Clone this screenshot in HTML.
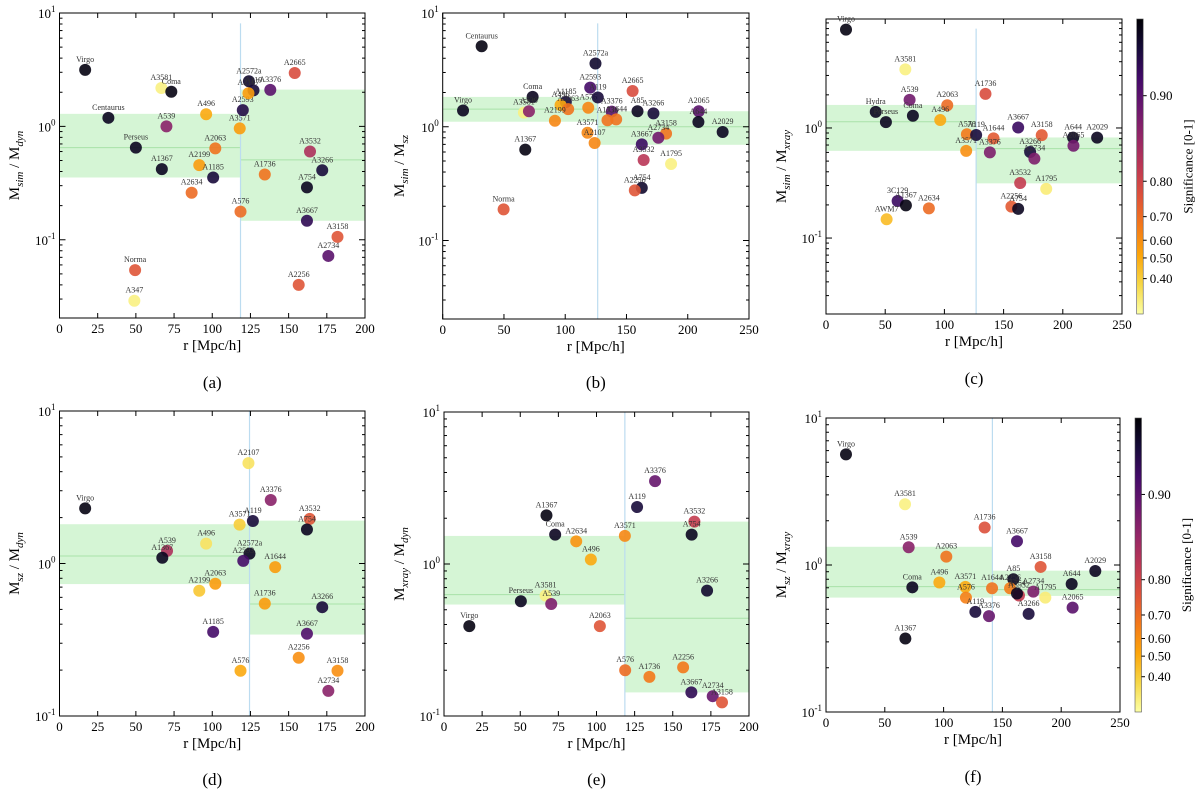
<!DOCTYPE html>
<html><head><meta charset="utf-8"><style>
html,body{margin:0;padding:0;background:#fff;}
svg{display:block;font-family:"Liberation Serif",serif;}
</style></head><body>
<svg id="fig" width="1200" height="797" viewBox="0 0 1200 797" xmlns="http://www.w3.org/2000/svg">
<defs>
<linearGradient id="inf" x1="0" y1="0" x2="0" y2="1">
<stop offset="0" stop-color="#000004"/><stop offset="0.1" stop-color="#160b39"/><stop offset="0.2" stop-color="#420a68"/><stop offset="0.3" stop-color="#6a176e"/><stop offset="0.4" stop-color="#932667"/><stop offset="0.5" stop-color="#bc3754"/><stop offset="0.6" stop-color="#dd513a"/><stop offset="0.7" stop-color="#f37819"/><stop offset="0.8" stop-color="#fca50a"/><stop offset="0.9" stop-color="#f6d746"/><stop offset="1" stop-color="#fcffa4"/>
</linearGradient>
</defs>
</svg>
<script>
// ---- Panel (a): M_sim / M_dyn
const aNames=["Virgo","A3581","Coma","Centaurus","A539","A496","Perseus","A1367","A2063","A2199","A1185","A2634","A576","A3571","A2593","A2572a","A119","A2107","A3376","A2665","A3532","A1736","A3266","A754","A3667","A3158","A2734","A2256","Norma","A347"];
const aR=[16.8,66.7,73.2,32,70,96,50,67,102,91.5,100.6,86.5,118.5,118,120,124,127,123.7,138,154,164,134.4,172,162,162,182,176,156.6,49.5,49];
const aM=[3.15,2.18,2.02,1.19,1.0,1.28,0.65,0.42,0.64,0.455,0.354,0.26,0.177,0.96,1.39,2.5,2.08,1.96,2.1,2.96,0.6,0.376,0.41,0.29,0.147,0.106,0.072,0.04,0.054,0.029];
const aSig=[0.99,0.33,0.99,0.98,0.86,0.5,0.98,0.98,0.68,0.55,0.96,0.7,0.7,0.55,0.95,0.97,0.96,0.55,0.9,0.77,0.83,0.68,0.96,0.98,0.94,0.75,0.9,0.75,0.75,0.33];
const aBandL=[0.354,1.29,0.65], aBandR=[0.147,2.11,0.507], aSplit=118.5;
// ---- Panel (b): M_sim / M_sz
const bNames=["Centaurus","Virgo","Coma","A3581","A539","A1185","A496","A2063","A2199","A576","A2593","A119","A2572a","A3571","A2107","A2665","A3376","A1736","A1644","A85","A3266","A2065","A644","A2029","A3158","A2734","A3667","A3532","A1795","A754","A2256","A1367","Norma"];
const bR=[31.8,16.6,73.4,66.3,70.4,100.5,96.2,102.4,91.6,118.8,120.4,126.6,124.7,118.2,124,155,138,134.5,141.6,159,172,209,208.7,228.5,182.3,176,162.5,164,186.4,162.5,156.8,67.4,49.7];
const bM=[5.1,1.39,1.83,1.33,1.37,1.65,1.55,1.43,1.13,1.47,2.21,1.81,3.6,0.885,0.72,2.06,1.36,1.14,1.16,1.37,1.31,1.37,1.1,0.9,0.87,0.8,0.7,0.51,0.47,0.29,0.276,0.63,0.188];
const bSig=[0.99,0.98,0.98,0.33,0.86,0.96,0.5,0.68,0.62,0.62,0.92,0.96,0.97,0.62,0.62,0.77,0.9,0.68,0.68,0.98,0.96,0.9,0.98,0.98,0.68,0.88,0.93,0.82,0.33,0.97,0.75,0.99,0.75];
const bBandL=[1.107,1.83,1.43], bBandR=[0.694,1.37,1.0], bSplit=126.5;
// ---- Panel (c): M_sim / M_xray
const cNames=["Virgo","A3581","A539","A1736","A2063","Hydra","Coma","Perseus","A496","A576","A119","A1644","A3571","A3376","A3667","A3158","A644","A2029","A2065","A3266","A2734","A3532","A1795","A2256","A754","3C129","A1367","A2634","AWM7"];
const cR=[16.9,67,70.6,134.7,102.4,42,73.4,50.6,96.5,119,126.8,141.5,118.4,138.4,162.3,182.2,208.7,229,209,172.4,176,164,186,156.6,162.3,60.5,67.5,86.9,51.2];
const cM=[7.83,3.41,1.8,2.04,1.61,1.4,1.29,1.13,1.18,0.876,0.864,0.805,0.62,0.6,1.01,0.86,0.817,0.817,0.69,0.605,0.526,0.316,0.28,0.193,0.184,0.217,0.198,0.186,0.148];
const cSig=[0.99,0.33,0.88,0.77,0.7,0.98,0.98,0.98,0.5,0.66,0.96,0.74,0.6,0.87,0.93,0.74,0.98,0.98,0.88,0.96,0.87,0.81,0.34,0.74,0.98,0.93,0.99,0.7,0.45];
const cBandL=[0.62,1.62,1.14], cBandR=[0.314,0.82,0.65], cSplit=126.8;
// ---- Panel (d): M_sz / M_dyn
const dNames=["Virgo","A539","A1367","A496","A2063","A2199","A1185","A576","A2107","A3571","A119","A2572a","A2593","A3376","A3532","A754","A1644","A1736","A3266","A3667","A2256","A3158","A2734"];
const dR=[16.8,70.4,67.3,96,102,91.5,100.6,118.5,123.7,117.9,126.6,124.4,120.3,138.3,163.8,162,141.2,134.4,172,162,156.6,182,176];
const dM=[2.3,1.21,1.09,1.35,0.737,0.663,0.356,0.198,4.55,1.8,1.9,1.16,1.04,2.61,1.96,1.67,0.946,0.546,0.517,0.346,0.241,0.198,0.146];
const dSig=[0.99,0.83,0.98,0.36,0.55,0.42,0.92,0.5,0.36,0.4,0.96,0.98,0.92,0.86,0.75,0.98,0.55,0.55,0.96,0.91,0.6,0.6,0.86];
const dBandL=[0.733,1.81,1.12], dBandR=[0.342,1.91,0.543], dSplit=124.4;
// ---- Panel (e): M_xray / M_dyn
const eNames=["A3376","A119","A1367","Coma","A2634","A3571","A496","A3532","A754","A3266","Perseus","A3581","A539","Virgo","A2063","A576","A1736","A2256","A3667","A2734","A3158"];
const eR=[138.4,126.6,67.2,72.9,86.7,118.6,96.3,164.2,162.4,172.5,50.4,66.6,70.3,16.6,102.2,118.8,134.7,156.8,162.2,176.2,182.3];
const eM=[3.51,2.37,2.09,1.56,1.41,1.53,1.07,1.9,1.56,0.668,0.569,0.62,0.546,0.39,0.39,0.2,0.181,0.209,0.143,0.135,0.123];
const eSig=[0.89,0.96,0.99,0.98,0.58,0.62,0.5,0.81,0.98,0.97,0.98,0.33,0.87,0.99,0.75,0.7,0.66,0.66,0.94,0.89,0.75];
const eBandL=[0.541,1.53,0.629], eBandR=[0.143,1.9,0.44], eSplit=118.6;
// ---- Panel (f): M_sz / M_xray
const fNames=["Virgo","A3581","A1736","A3667","A539","A2063","A3158","A2029","A85","A644","A496","Coma","A3571","A1644","A2256","A2734","A3532","A754","A576","A1795","A2065","A119","A3376","A3266","A1367"];
const fR=[17,67.2,134.9,162.4,70.3,102.3,182.5,229,159.3,208.9,96.4,73.4,118.5,141.2,156.5,176.3,164.1,162.4,119,186.5,209.7,127,138.6,172.3,67.5];
const fM=[5.66,2.59,1.8,1.45,1.32,1.14,0.97,0.91,0.8,0.743,0.76,0.705,0.71,0.695,0.695,0.659,0.62,0.64,0.6,0.6,0.513,0.48,0.449,0.465,0.316];
const fSig=[0.99,0.33,0.76,0.92,0.86,0.68,0.75,0.98,0.98,0.98,0.5,0.98,0.5,0.68,0.65,0.87,0.81,0.98,0.64,0.34,0.9,0.96,0.89,0.96,0.99];
const fBandL=[0.60,1.33,0.713], fBandR=[0.616,0.915,0.68], fSplit=141.5;
// colorbar ticks
const cbTicks=[0.4,0.5,0.6,0.7,0.8,0.9];
const cbFrac=[0.88,0.81,0.75,0.67,0.55,0.26];

const NS="http://www.w3.org/2000/svg";
const svg=document.getElementById('fig');
function mk(tag,attrs,parent){const e=document.createElementNS(NS,tag);for(const k in attrs)e.setAttribute(k,attrs[k]);(parent||svg).appendChild(e);return e;}
const INF=[[0,0,0,4],[0.1,22,11,57],[0.2,66,10,104],[0.3,106,23,110],[0.4,147,38,103],[0.5,188,55,84],[0.6,221,81,58],[0.7,243,120,25],[0.8,252,165,10],[0.9,246,215,70],[1,252,255,164]];
function sigFrac(s){const S=[0.3,0.4,0.5,0.6,0.7,0.8,0.9,1.0],F=[1.0,0.88,0.81,0.75,0.67,0.55,0.26,0];
 if(s<=S[0])return 1; if(s>=1)return 0;
 for(let i=0;i<S.length-1;i++){if(s<=S[i+1]){const t=(s-S[i])/(S[i+1]-S[i]);return F[i]+t*(F[i+1]-F[i]);}} return 0;}
function inferno(t){for(let i=0;i<INF.length-1;i++){if(t<=INF[i+1][0]){const a=INF[i],b=INF[i+1],u=(t-a[0])/(b[0]-a[0]);return 'rgb('+[1,2,3].map(j=>Math.round(a[j]+u*(b[j]-a[j]))).join(',')+')';}}return 'rgb(252,255,164)';}

function panel(cfg){
 const g=mk('g',{});
 
 
 const {x0,x1,y0,y1,xmax,xstep,lmin,lmax}=cfg;
 const sx=r=>x0+r/xmax*(x1-x0);
 const sy=m=>y1-(Math.log10(m)-lmin)/(lmax-lmin)*(y1-y0);
 // bands
 [[cfg.bandL,0,cfg.split,'left'],[cfg.bandR,cfg.split,xmax,'right']].forEach(([b,ra,rb,side])=>{
  const rc=mk('rect',{x:sx(ra),y:sy(b[1]),width:sx(rb)-sx(ra),height:sy(b[0])-sy(b[1]),fill:'#d5f5d5'},g);
  
  
  const ml=mk('line',{x1:sx(ra),x2:sx(rb),y1:sy(b[2]),y2:sy(b[2]),stroke:'#a9e2a9','stroke-width':1},g);
  
  
 });
 const vl=mk('line',{x1:sx(cfg.split),x2:sx(cfg.split),y1:sy(cfg.vtop),y2:y1,stroke:'#bcdcf0','stroke-width':1.2},g);
 
 
 // axes frame
 const fr=mk('rect',{x:x0,y:y0,width:x1-x0,height:y1-y0,fill:'none',stroke:'#000','stroke-width':1},g);
 
 
 // x ticks
 for(let v=0;v<=xmax+0.01;v+=xstep){const X=sx(v);
  mk('line',{x1:X,x2:X,y1:y1,y2:y1-5,stroke:'#000'},g);mk('line',{x1:X,x2:X,y1:y0,y2:y0+5,stroke:'#000'},g);
  const t=mk('text',{x:X,y:y1+15,'font-size':13,'text-anchor':'middle'},g);t.textContent=v;
  
  }
 // y ticks
 for(let d=Math.floor(lmin);d<=Math.ceil(lmax);d++){
  for(let k=1;k<10;k++){const l=d+Math.log10(k); if(l<lmin-1e-6||l>lmax+1e-6)continue; const Y=y1-(l-lmin)/(lmax-lmin)*(y1-y0); const len=k==1?6:3;
   mk('line',{x1:x0,x2:x0+len,y1:Y,y2:Y,stroke:'#000'},g);mk('line',{x1:x1,x2:x1-len,y1:Y,y2:Y,stroke:'#000'},g);
   if(k==1){const t=mk('text',{x:x0-4,y:Y+5,'font-size':13,'text-anchor':'end'},g);t.innerHTML='10<tspan dy="-6" font-size="9">'+d+'</tspan>';
    
    }}}
 // points
 for(let i=0;i<cfg.names.length;i++){
  const X=sx(cfg.r[i]),Y=sy(cfg.m[i]);
  const c=mk('circle',{cx:X,cy:Y,r:6,fill:inferno(sigFrac(cfg.sig[i])),'fill-opacity':0.9},g);
  
  
  const t=mk('text',{x:X,y:Y-8,'font-size':8,'text-anchor':'middle',fill:'#333'},g);t.textContent=cfg.names[i];
  
  
 }
 // labels
 const xl=mk('text',{x:(x0+x1)/2,y:y1+32,'font-size':15,'text-anchor':'middle'},g);xl.textContent='r [Mpc/h]';
 
 
 const yl=mk('text',{x:0,y:0,'font-size':15,'text-anchor':'middle',transform:'translate('+cfg.ylx+','+((y0+y1)/2)+') rotate(-90)'},g);
 yl.innerHTML='M<tspan dy="4" font-size="11" font-style="italic">'+cfg.num+'</tspan><tspan dy="-4"> / M</tspan><tspan dy="4" font-size="11" font-style="italic">'+cfg.den+'</tspan>';
 
 
 const cp=mk('text',{x:(x0+x1)/2,y:cfg.capY,'font-size':17,'text-anchor':'middle'},g);cp.textContent='('+cfg.id+')';
 
 
}
function colorbar(x,y0,y1){
 const g=mk('g',{});
 
 
 mk('rect',{x:x,y:y0,width:6.5,height:y1-y0,fill:'url(#inf)',stroke:'#555','stroke-width':0.6},g);
 for(let i=0;i<cbTicks.length;i++){const Y=y0+cbFrac[i]*(y1-y0);
  mk('line',{x1:x+6.5,x2:x+10,y1:Y,y2:Y,stroke:'#000'},g);
  const t=mk('text',{x:x+13,y:Y+4.5,'font-size':13},g);t.textContent=cbTicks[i].toFixed(2);
  
  }
 const l=mk('text',{x:0,y:0,'font-size':13,'text-anchor':'middle',transform:'translate('+(x+56)+','+((y0+y1)/2)+') rotate(-90)'},g);l.textContent='Significance [0-1]';
 
 
}
panel({id:'a',x0:59.5,x1:365,y0:13,y1:318,xmax:200,xstep:25,lmin:-1.69,lmax:1,names:aNames,r:aR,m:aM,sig:aSig,bandL:aBandL,bandR:aBandR,split:aSplit,vtop:8.1,ylx:19,num:'sim',den:'dyn',capY:388});
panel({id:'b',x0:442.7,x1:749,y0:13,y1:319,xmax:250,xstep:50,lmin:-1.69,lmax:1,names:bNames,r:bR,m:bM,sig:bSig,bandL:bBandL,bandR:bBandR,split:bSplit,vtop:8.1,ylx:404,num:'sim',den:'sz',capY:388});
panel({id:'c',x0:826,x1:1122,y0:19,y1:314,xmax:250,xstep:50,lmin:-1.69,lmax:0.99,names:cNames,r:cR,m:cM,sig:cSig,bandL:cBandL,bandR:cBandR,split:cSplit,vtop:8,ylx:786,num:'sim',den:'xray',capY:384});
panel({id:'d',x0:59.5,x1:365,y0:411,y1:716,xmax:200,xstep:25,lmin:-1,lmax:1,names:dNames,r:dR,m:dM,sig:dSig,bandL:dBandL,bandR:dBandR,split:dSplit,vtop:10,ylx:19,num:'sz',den:'dyn',capY:785});
panel({id:'e',x0:444,x1:749,y0:412,y1:716,xmax:200,xstep:25,lmin:-1,lmax:1,names:eNames,r:eR,m:eM,sig:eSig,bandL:eBandL,bandR:eBandR,split:eSplit,vtop:10,ylx:404,num:'xray',den:'dyn',capY:785});
panel({id:'f',x0:826,x1:1120,y0:418,y1:712,xmax:250,xstep:50,lmin:-1,lmax:1,names:fNames,r:fR,m:fM,sig:fSig,bandL:fBandL,bandR:fBandR,split:fSplit,vtop:10,ylx:786,num:'sz',den:'xray',capY:782});
colorbar(1136.7,19,314);
colorbar(1135,418,712);
</script>
</body></html>
